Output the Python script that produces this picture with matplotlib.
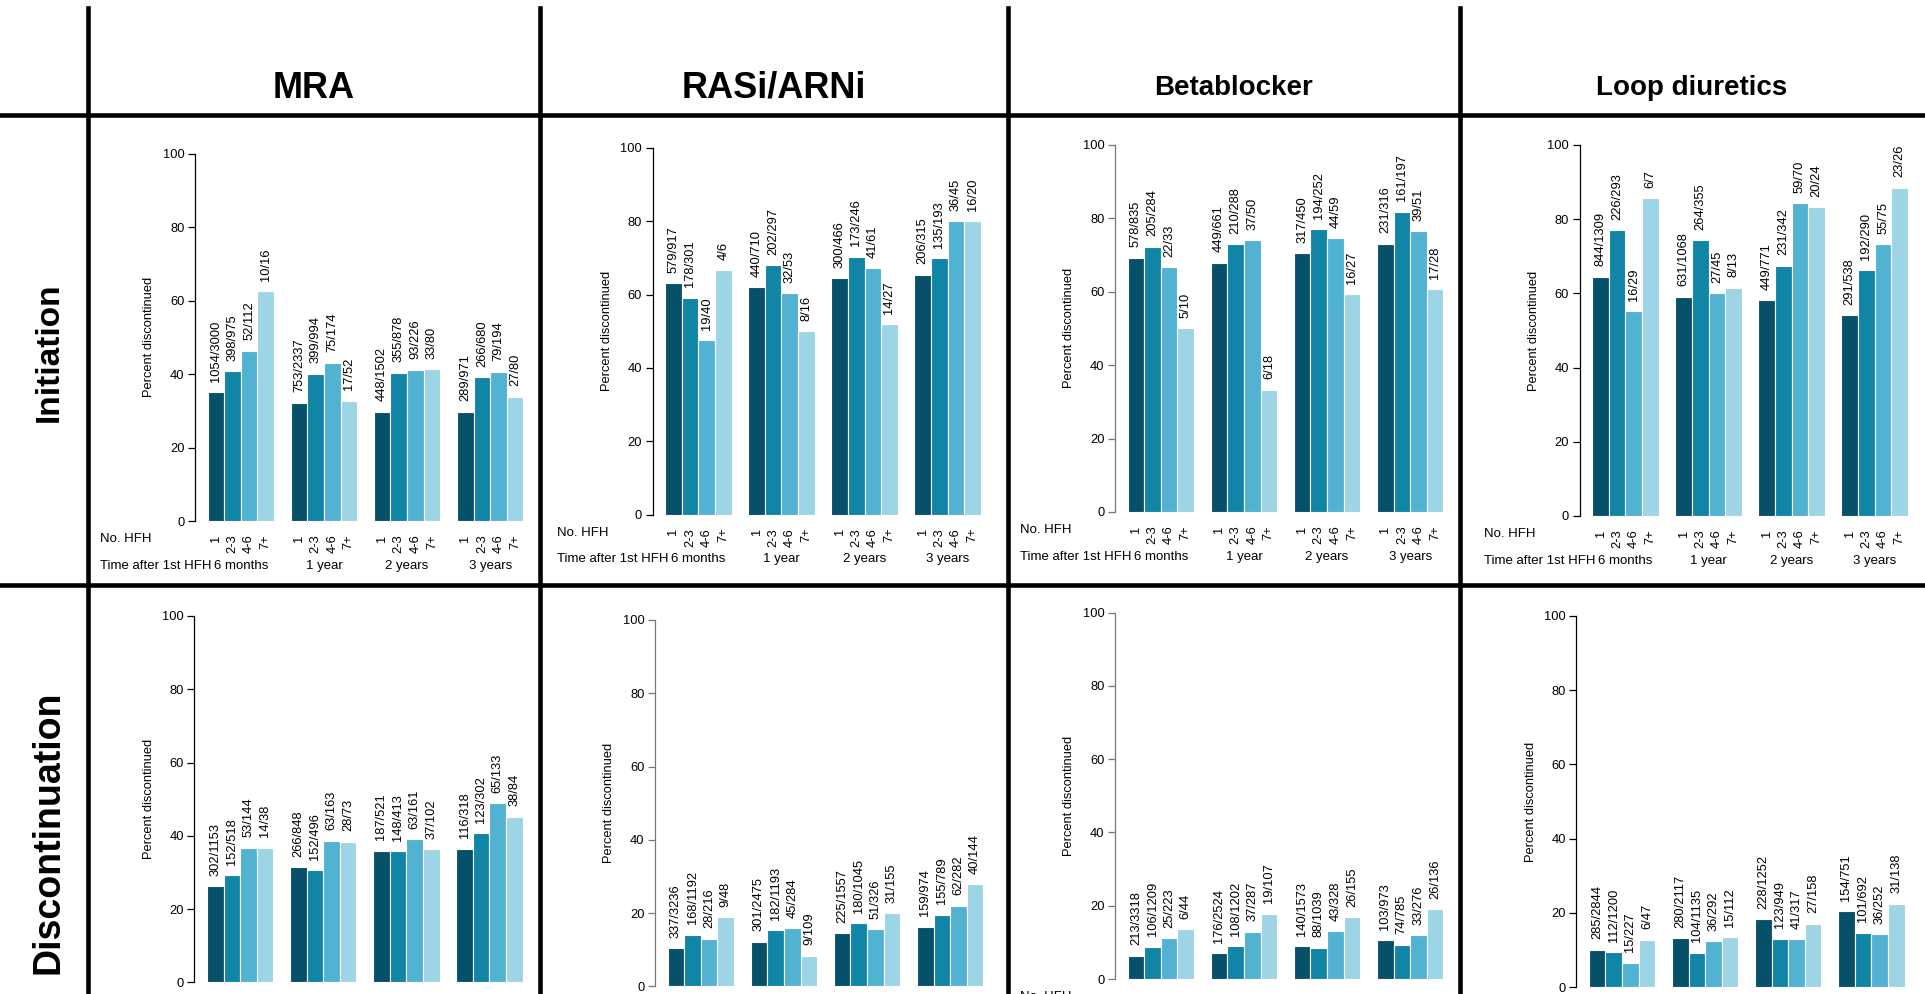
import matplotlib.pyplot as plt
from matplotlib.lines import Line2D

plt.rcParams['font.family'] = ['Liberation Sans', 'DejaVu Sans']

# Общие подписи
drugs = ['MRA', 'RASi/ARNi', 'Betablocker', 'Loop diuretics']
phases = ['Initiation', 'Discontinuation']
n_hfh = ['1', '2-3', '4-6', '7+']
times = ['6 months', '1 year', '2 years', '3 years']
colors = ['#06506a', '#1185a6', '#52b2d2', '#9ed5e6']

# Initiation: n/N и процент прекращения (6 мес, 1 год, 2 года, 3 года; по 4 группы HFH)
mra_init_n = ['1054/3000', '398/975', '52/112', '10/16',
              '753/2337', '399/994', '75/174', '17/52',
              '448/1502', '355/878', '93/226', '33/80',
              '289/971', '266/680', '79/194', '27/80']
mra_init_pct = [35.1, 40.8, 46.4, 62.5, 32.2, 40.1, 43.1, 32.7,
                29.8, 40.4, 41.2, 41.3, 29.8, 39.1, 40.7, 33.8]

rasi_init_n = ['579/917', '178/301', '19/40', '4/6',
               '440/710', '202/297', '32/53', '8/16',
               '300/466', '173/246', '41/61', '14/27',
               '206/315', '135/193', '36/45', '16/20']
rasi_init_pct = [63.1, 59.1, 47.5, 66.7, 62.0, 68.0, 60.4, 50.0,
                 64.4, 70.3, 67.2, 51.9, 65.4, 69.9, 80.0, 80.0]

beta_init_n = ['578/835', '205/284', '22/33', '5/10',
               '449/661', '210/288', '37/50', '6/18',
               '317/450', '194/252', '44/59', '16/27',
               '231/316', '161/197', '39/51', '17/28']
beta_init_pct = [69.2, 72.2, 66.7, 50.0, 67.9, 72.9, 74.0, 33.3,
                 70.4, 77.0, 74.6, 59.3, 73.1, 81.7, 76.5, 60.7]

loop_init_n = ['844/1309', '226/293', '16/29', '6/7',
               '631/1068', '264/355', '27/45', '8/13',
               '449/771', '231/342', '59/70', '20/24',
               '291/538', '192/290', '55/75', '23/26']
loop_init_pct = [64.5, 77.1, 55.2, 85.7, 59.1, 74.4, 60.0, 61.5,
                 58.2, 67.5, 84.3, 83.3, 54.1, 66.2, 73.3, 88.5]

# Discontinuation
mra_disc_n = ['302/1153', '152/518', '53/144', '14/38',
              '266/848', '152/496', '63/163', '28/73',
              '187/521', '148/413', '63/161', '37/102',
              '116/318', '123/302', '65/133', '38/84']
mra_disc_pct = [26.2, 29.3, 36.8, 36.8, 31.4, 30.6, 38.7, 38.4,
                35.9, 35.8, 39.1, 36.3, 36.5, 40.7, 48.9, 45.2]

rasi_disc_n = ['337/3236', '168/1192', '28/216', '9/48',
               '301/2475', '182/1193', '45/284', '9/109',
               '225/1557', '180/1045', '51/326', '31/155',
               '159/974', '155/789', '62/282', '40/144']
rasi_disc_pct = [10.4, 14.1, 13.0, 18.8, 12.2, 15.3, 15.8, 8.3,
                 14.5, 17.2, 15.6, 20.0, 16.3, 19.6, 22.0, 27.8]

beta_disc_n = ['213/3318', '106/1209', '25/223', '6/44',
               '176/2524', '108/1202', '37/287', '19/107',
               '140/1573', '88/1039', '43/328', '26/155',
               '103/973', '74/785', '33/276', '26/136']
beta_disc_pct = [6.4, 8.8, 11.2, 13.6, 7.0, 9.0, 12.9, 17.8,
                 8.9, 8.5, 13.1, 16.8, 10.6, 9.4, 12.0, 19.1]

loop_disc_n = ['285/2844', '112/1200', '15/227', '6/47',
               '280/2117', '104/1135', '36/292', '15/112',
               '228/1252', '123/949', '41/317', '27/158',
               '154/751', '101/692', '36/252', '31/138']
loop_disc_pct = [10.0, 9.3, 6.6, 12.8, 13.2, 9.2, 12.3, 13.4,
                 18.2, 13.0, 12.9, 17.1, 20.5, 14.6, 14.3, 22.5]

panels = [
    (0, 0, mra_init_n, mra_init_pct), (0, 1, rasi_init_n, rasi_init_pct),
    (0, 2, beta_init_n, beta_init_pct), (0, 3, loop_init_n, loop_init_pct),
    (1, 0, mra_disc_n, mra_disc_pct), (1, 1, rasi_disc_n, rasi_disc_pct),
    (1, 2, beta_disc_n, beta_disc_pct), (1, 3, loop_disc_n, loop_disc_pct),
]

# Раскладка в пикселях: (ось y по x, верх=100, низ=0), цвет оси
W, H = 1925, 994
layout = {
    (0, 0): (195, 153.7, 521, 'black'), (0, 1): (652.5, 148, 514.5, 'black'),
    (0, 2): (1115, 144.7, 512, '#777777'), (0, 3): (1579.6, 145, 516, 'black'),
    (1, 0): (194.3, 616, 982.3, 'black'), (1, 1): (655, 620, 986.3, '#777777'),
    (1, 2): (1115, 612.7, 979, '#777777'), (1, 3): (1576.2, 616, 987, 'black'),
}

fig = plt.figure(figsize=(W / 100, H / 100), dpi=100)

xs = [g * 5 + j + 0.5 for g in range(4) for j in range(4)]

for row, col, labels, pct in panels:
    x0, y100, y0, axcol = layout[(row, col)]
    ax = fig.add_axes([x0 / W, 1 - y0 / H, 341 / W, (y0 - y100) / H])
    ax.bar(xs, pct, width=1, color=colors * 4, edgecolor='white', linewidth=0.8)
    for x, v, lab in zip(xs, pct, labels):
        ax.annotate(lab, xy=(x, v), xytext=(0, 7.5), textcoords='offset points',
                    rotation=90, ha='center', va='bottom', fontsize=9.3)
    ax.set_xlim(-0.76, 19.76)
    ax.set_ylim(0, 100)
    for s in ['top', 'right', 'bottom']:
        ax.spines[s].set_visible(False)
    ax.spines['left'].set_bounds(0, 100)
    ax.spines['left'].set_color(axcol)
    ax.spines['left'].set_linewidth(0.9)
    ax.set_yticks(range(0, 101, 20))
    ax.tick_params(axis='y', length=5, width=0.9, pad=2.5, labelsize=9.3, color=axcol)
    ax.set_xticks(xs)
    ax.set_xticklabels(n_hfh * 4, rotation=90, fontsize=9.3)
    ax.tick_params(axis='x', length=0, pad=9.7)
    ax.text(-0.134, 0.5, 'Percent discontinued', rotation=90, ha='center',
            va='center', fontsize=9.3, transform=ax.transAxes)
    ax.annotate('No. HFH', xy=(0, 0), xycoords='axes fraction', xytext=(-68.5, -13.3),
                textcoords='offset points', ha='left', va='center', fontsize=9.5,
                annotation_clip=False)
    ax.annotate('Time after 1st HFH', xy=(0, 0), xycoords='axes fraction',
                xytext=(-68.5, -32.3), textcoords='offset points', ha='left',
                va='center', fontsize=9.5, annotation_clip=False)
    for g, t in enumerate(times):
        ax.annotate(t, xy=(g * 5 + 2, 0), xycoords=('data', 'axes fraction'),
                    xytext=(0, -32.3), textcoords='offset points', ha='center',
                    va='center', fontsize=9.5, annotation_clip=False)

# Рамка таблицы
for x in [88, 540, 1008.5, 1460]:
    fig.add_artist(Line2D([x / W, x / W], [1 - 8 / H, 0], color='black', lw=3.3))
for y in [114.5, 585]:
    fig.add_artist(Line2D([0, 1], [1 - y / H, 1 - y / H], color='black', lw=3.3))

# Заголовки столбцов и строк
title_size = [26, 26, 20, 20]
for cx, d, fs in zip([314, 774, 1234, 1692], drugs, title_size):
    fig.text(cx / W, 1 - 88 / H, d, ha='center', va='center', fontsize=fs,
             fontweight='bold')
for cy, p, fs in zip([352, 832], phases, [24, 27]):
    fig.text(49 / W, 1 - cy / H, p, ha='center', va='center', rotation=90,
             fontsize=fs, fontweight='bold')

plt.savefig('out.png', dpi=100)
